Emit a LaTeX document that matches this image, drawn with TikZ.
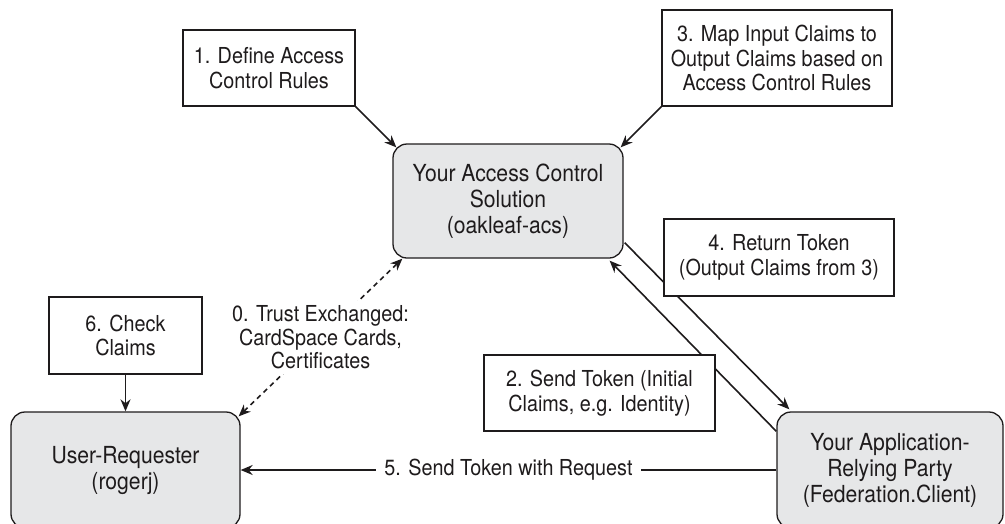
\documentclass[tikz,border=0pt]{standalone}
\usepackage{fontspec}
\setmainfont[FakeStretch=0.9]{TeX Gyre Heros}
\usetikzlibrary{arrows.meta,calc,backgrounds}
\definecolor{ink}{HTML}{1E1B1C}
\definecolor{boxgray}{HTML}{E6E7E8}
\begin{document}
\begin{tikzpicture}[x=1pt,y=-1pt,
  every node/.style={text=ink},
  smallbox/.style={draw=ink, line width=1.3pt, fill=white, align=center,
    font=\fontsize{22}{24.5}\selectfont, inner sep=0pt},
  bignode/.style={draw=ink, line width=1.3pt, fill=boxgray, rounded corners=14pt,
    align=center, font=\fontsize{23.5}{26}\selectfont, inner sep=0pt},
  lbl/.style={fill=white, align=center, font=\fontsize{22}{23.5}\selectfont,
    inner xsep=8pt, inner ysep=5pt},
  arr/.style={draw=ink, line width=1.6pt, -{Stealth[length=12pt,width=10pt]}},
  dasharr/.style={draw=ink, line width=1.6pt, dash pattern=on 5pt off 4pt,
    {Stealth[length=12pt,width=10pt]}-{Stealth[length=12pt,width=10pt]}},
  ]
\useasboundingbox (0,0) rectangle (1005,523);

\node[smallbox, minimum width=172pt, minimum height=76pt] (b1) at (269,68)
  {1. Define Access\\Control Rules};
\node[smallbox, minimum width=230pt, minimum height=96pt] (b3) at (777,58)
  {3. Map Input Claims to\\Output Claims based on\\Access Control Rules};
\node[bignode, minimum width=230pt, minimum height=114pt] (acs) at (508,201)
  {Your Access Control\\Solution\\(oakleaf-acs)};
\node[smallbox, minimum width=230pt, minimum height=77pt] (b4) at (779,257.5)
  {4. Return Token\\(Output Claims from 3)};
\node[smallbox, minimum width=153pt, minimum height=77pt] (b6) at (125.5,335.5)
  {6. Check\\Claims};
\node[smallbox, minimum width=231pt, minimum height=76pt] (b2) at (599.5,393)
  {2. Send Token (Initial\\Claims, e.g. Identity)};
\node[bignode, minimum width=229pt, minimum height=116pt] (user) at (125.5,470)
  {User-Requester\\(rogerj)};
\node[bignode, minimum width=226pt, minimum height=116pt] (app) at (890,470)
  {Your Application-\\Relying Party\\(Federation.Client)};

\begin{scope}[on background layer]
  \draw[arr] (b1.south east) -- ($(acs.north west)+(4,4)$);
  \draw[arr] (b3.south west) -- ($(acs.north east)+(-3,4)$);
  \draw[arr] (b6.south) -- (user.north);
  \draw[arr] ($(acs.south east)+(1,-16)$) -- ($(app.north west)+(13,-2)$);
  \draw[arr] ($(app.north west)+(0,20)$) -- ($(acs.south east)+(-14,2)$);
  \draw[dasharr] ($(user.north east)+(-2,5)$) -- ($(acs.south west)+(10,0)$)
    node[lbl, pos=0.5, inner xsep=3pt] (l0) {0. Trust Exchanged:\\CardSpace Cards,\\Certificates};
  \draw[arr] (app.west) -- (user.east)
    node[lbl, pos=0.5] (l5) {5. Send Token with Request};
\end{scope}
\end{tikzpicture}
\end{document}
